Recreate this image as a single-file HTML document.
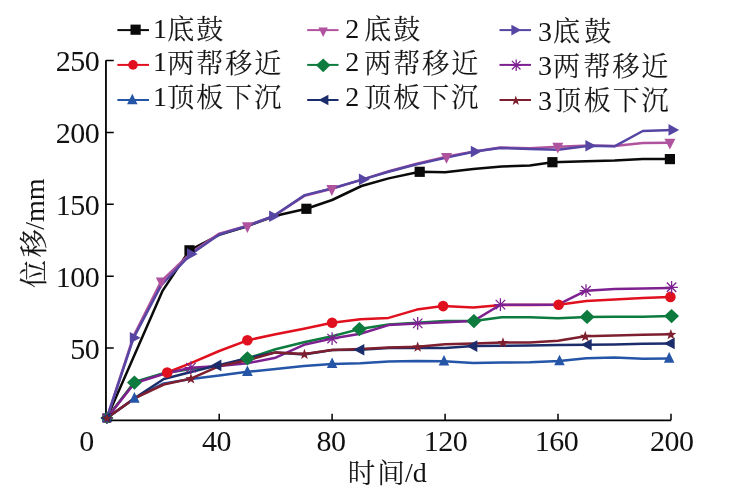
<!DOCTYPE html>
<html lang="zh"><head><meta charset="utf-8"><title>位移-时间</title>
<style>
html,body{margin:0;padding:0;background:#fff;}
svg{display:block}
text{font-family:"Liberation Serif","Noto Serif CJK SC",serif;fill:#111;}
.n{font-size:28px}
.t{font-size:30px;letter-spacing:-0.5px}
.c{font-family:"Noto Serif CJK SC","Liberation Serif",serif;font-size:28px;letter-spacing:1px;font-weight:300;stroke:#111;stroke-width:0.22px}
</style></head><body>
<svg width="731" height="504" viewBox="0 0 731 504">
<rect width="731" height="504" fill="#fff"/>
<path d="M105.95 60.3L105.95 420.4L671.2 420.4" fill="none" stroke="#000" stroke-width="1.8"/>
<path d="M105.95 348.1h7.8M105.95 276.2h7.8M105.95 204.3h7.8M105.95 132.4h7.8M105.95 60.5h7.8M219.2 420.0v-6.3M332.1 420.0v-6.3M445.1 420.0v-6.3M558.0 420.0v-6.3M671.0 420.0v-6.3" fill="none" stroke="#000" stroke-width="1.5"/>
<text class="t" x="99.2" y="358.7" text-anchor="end">50</text>
<text class="t" x="99.2" y="286.8" text-anchor="end">100</text>
<text class="t" x="99.2" y="214.9" text-anchor="end">150</text>
<text class="t" x="99.2" y="143.0" text-anchor="end">200</text>
<text class="t" x="99.2" y="71.1" text-anchor="end">250</text>
<text class="t" x="86.5" y="450.6" text-anchor="middle">0</text>
<text class="t" x="216.5" y="450.6" text-anchor="middle">40</text>
<text class="t" x="331.0" y="450.6" text-anchor="middle">80</text>
<text class="t" x="445.6" y="450.6" text-anchor="middle">120</text>
<text class="t" x="556.5" y="450.6" text-anchor="middle">160</text>
<text class="t" x="671.8" y="450.6" text-anchor="middle">200</text>
<text y="482"><tspan class="c" x="347.8 377.2" dy="0.8" style="font-size:27.5px">时间</tspan><tspan class="n" x="405" dy="-0.8">/d</tspan></text>
<text transform="translate(43.6 288) rotate(-90)"><tspan class="c" x="0 30.7">位移</tspan><tspan class="n" x="58.3">/mm</tspan></text>
<path d="M106.9 418.0L162.7 290.6L189.5 250.3L219.2 234.8L247.4 226.2L275.6 215.8L306.4 208.8L332.1 200.0L361.5 186.0L388.6 178.4L419.7 171.8L445.1 172.2L473.3 169.1L501.6 166.5L529.8 165.5L552.4 162.2L586.3 161.2L614.5 160.4L642.8 158.9L669.9 159.1" fill="none" stroke="#0a0a0a" stroke-width="2.5" stroke-linejoin="round"/>
<path d="M106.9 418.0L133.7 335.7L161.3 281.1L190.9 252.9L219.2 233.6L247.4 225.6L274.2 215.8L304.7 195.7L331.8 188.8L362.9 179.4L388.6 171.2L416.8 163.7L446.5 156.6L474.7 151.4L500.1 147.6L529.8 148.2L557.8 146.8L589.4 145.5L614.5 146.1L642.8 142.9L669.9 142.8" fill="none" stroke="#b0539f" stroke-width="2.5" stroke-linejoin="round"/>
<path d="M106.9 418.0L133.7 337.7L161.3 285.1L190.9 254.1L219.2 234.5L247.4 225.9L273.1 216.2L304.7 195.1L331.8 188.5L362.9 179.4L388.6 171.8L416.8 164.3L446.5 157.6L474.7 151.5L500.1 147.9L529.8 148.9L558.0 149.7L589.4 145.8L614.5 146.3L642.8 131.0L672.4 130.0" fill="none" stroke="#5645a3" stroke-width="2.5" stroke-linejoin="round"/>
<path d="M106.9 418.0L134.4 382.6L167.2 372.5L190.9 363.2L219.2 351.0L247.4 340.3L275.6 334.3L303.9 328.7L332.1 322.8L360.4 319.3L388.6 317.9L416.8 309.6L443.1 306.1L473.3 307.4L501.6 305.0L529.8 305.0L558.6 304.7L586.3 301.1L614.5 299.4L642.8 297.9L669.4 296.9" fill="none" stroke="#e0101e" stroke-width="2.5" stroke-linejoin="round"/>
<path d="M106.9 418.0L134.4 381.9L162.7 373.4L190.9 369.0L219.2 366.1L247.4 358.3L275.6 349.3L303.9 342.3L332.1 336.3L359.4 329.1L388.6 324.4L416.8 322.8L445.1 321.1L473.9 321.1L501.6 317.2L529.8 317.2L558.0 318.2L587.1 316.9L614.5 316.8L642.8 316.8L671.6 316.0" fill="none" stroke="#0d7b3e" stroke-width="2.5" stroke-linejoin="round"/>
<path d="M106.9 418.0L134.4 383.3L162.7 374.3L190.9 367.7L219.2 366.1L247.4 363.2L275.6 357.7L303.9 344.8L332.1 338.6L360.4 333.7L388.6 325.1L417.7 323.4L445.1 322.2L473.3 321.1L500.4 304.7L529.8 304.7L558.0 304.7L586.0 290.7L614.5 289.1L642.8 288.6L670.7 288.0" fill="none" stroke="#7d2190" stroke-width="2.5" stroke-linejoin="round"/>
<path d="M106.9 418.0L134.4 398.4L162.7 383.8L190.9 379.0L219.2 375.4L247.4 371.8L275.6 369.0L303.9 366.1L332.1 363.9L360.4 363.2L388.6 361.6L416.8 361.0L444.0 361.3L473.3 362.9L501.6 362.5L529.8 362.2L559.5 361.0L586.3 358.2L614.5 357.4L642.8 358.7L669.2 358.5" fill="none" stroke="#2455a6" stroke-width="2.5" stroke-linejoin="round"/>
<path d="M106.9 418.0L134.4 398.4L163.8 379.0L190.9 372.0L217.5 365.4L247.4 358.2L275.6 352.4L303.9 354.6L332.1 350.1L360.4 349.7L388.6 348.1L416.8 347.7L445.1 348.1L473.3 346.1L501.6 345.8L529.8 345.5L558.0 345.1L587.7 344.8L614.5 344.4L642.8 343.8L670.7 343.4" fill="none" stroke="#1c2d6b" stroke-width="2.5" stroke-linejoin="round"/>
<path d="M106.9 418.0L134.4 398.4L163.8 384.5L190.9 378.6L219.2 366.1L247.4 360.3L275.6 352.4L304.4 354.0L332.1 350.1L360.4 349.1L388.6 347.5L417.7 346.8L445.1 344.2L473.3 343.5L503.0 342.5L529.8 342.5L558.0 340.8L585.3 336.2L614.5 335.4L642.8 334.7L670.9 334.3" fill="none" stroke="#7d1f2e" stroke-width="2.5" stroke-linejoin="round"/>
<rect x="102.4" y="413.5" width="9.0" height="9.0" fill="#0a0a0a"/>
<rect x="184.4" y="245.2" width="10.2" height="10.2" fill="#0a0a0a"/>
<rect x="301.3" y="203.7" width="10.2" height="10.2" fill="#0a0a0a"/>
<rect x="414.6" y="166.7" width="10.2" height="10.2" fill="#0a0a0a"/>
<rect x="547.3" y="157.1" width="10.2" height="10.2" fill="#0a0a0a"/>
<rect x="664.8" y="154.0" width="10.2" height="10.2" fill="#0a0a0a"/>
<path d="M102.1 414.5L111.7 414.5L106.9 424.0Z" fill="#b0539f"/>
<path d="M155.8 277.4L166.8 277.4L161.3 288.2Z" fill="#b0539f"/>
<path d="M241.9 222.2L252.9 222.2L247.4 233.0Z" fill="#b0539f"/>
<path d="M326.3 185.1L337.3 185.1L331.8 195.9Z" fill="#b0539f"/>
<path d="M441.0 152.9L452.0 152.9L446.5 163.7Z" fill="#b0539f"/>
<path d="M552.3 142.8L563.3 142.8L557.8 153.6Z" fill="#b0539f"/>
<path d="M664.4 138.8L675.4 138.8L669.9 149.6Z" fill="#b0539f"/>
<path d="M103.4 412.9L103.4 423.1L112.9 418.0Z" fill="#5645a3"/>
<path d="M129.8 331.9L129.8 343.6L140.6 337.7Z" fill="#5645a3"/>
<path d="M187.0 248.2L187.0 259.9L197.7 254.1Z" fill="#5645a3"/>
<path d="M269.1 210.4L269.1 222.1L279.9 216.2Z" fill="#5645a3"/>
<path d="M358.9 173.6L358.9 185.3L369.7 179.4Z" fill="#5645a3"/>
<path d="M470.8 145.7L470.8 157.4L481.6 151.5Z" fill="#5645a3"/>
<path d="M585.4 139.9L585.4 151.6L596.2 145.8Z" fill="#5645a3"/>
<path d="M668.5 124.1L668.5 135.8L679.2 130.0Z" fill="#5645a3"/>
<circle cx="106.9" cy="418.0" r="4.6" fill="#e0101e"/>
<circle cx="167.2" cy="372.5" r="5.3" fill="#e0101e"/>
<circle cx="247.4" cy="340.3" r="5.3" fill="#e0101e"/>
<circle cx="332.1" cy="322.8" r="5.3" fill="#e0101e"/>
<circle cx="443.1" cy="306.1" r="5.3" fill="#e0101e"/>
<circle cx="558.6" cy="304.7" r="5.3" fill="#e0101e"/>
<circle cx="670.4" cy="296.9" r="5.3" fill="#e0101e"/>
<path d="M100.3 418.0L106.9 411.7L113.5 418.0L106.9 424.3Z" fill="#0d7b3e"/>
<path d="M127.0 382.6L134.4 375.5L141.9 382.6L134.4 389.8Z" fill="#0d7b3e"/>
<path d="M239.9 358.3L247.4 351.2L254.9 358.3L247.4 365.5Z" fill="#0d7b3e"/>
<path d="M351.9 329.1L359.4 322.0L366.9 329.1L359.4 336.3Z" fill="#0d7b3e"/>
<path d="M466.4 321.1L473.9 313.9L481.4 321.1L473.9 328.2Z" fill="#0d7b3e"/>
<path d="M579.6 316.9L587.1 309.7L594.6 316.9L587.1 324.0Z" fill="#0d7b3e"/>
<path d="M664.1 316.0L671.6 308.9L679.0 316.0L671.6 323.2Z" fill="#0d7b3e"/>
<path d="M106.9 412.4L106.9 423.6M102.7 413.8L111.1 422.1M102.7 422.1L111.1 413.8M101.3 418.0L112.5 418.0" stroke="#7d2190" stroke-width="1.3" fill="none"/>
<path d="M190.9 361.3L190.9 374.0M186.2 362.9L195.7 372.4M186.2 372.4L195.7 362.9M184.5 367.7L197.3 367.7" stroke="#7d2190" stroke-width="1.3" fill="none"/>
<path d="M332.1 332.2L332.1 345.0M327.4 333.9L336.9 343.3M327.4 343.3L336.9 333.9M325.7 338.6L338.5 338.6" stroke="#7d2190" stroke-width="1.3" fill="none"/>
<path d="M417.7 317.0L417.7 329.7M413.0 318.6L422.4 328.1M413.0 328.1L422.4 318.6M411.3 323.4L424.1 323.4" stroke="#7d2190" stroke-width="1.3" fill="none"/>
<path d="M500.4 298.3L500.4 311.1M495.7 299.9L505.2 309.4M495.7 309.4L505.2 299.9M494.1 304.7L506.8 304.7" stroke="#7d2190" stroke-width="1.3" fill="none"/>
<path d="M586.0 284.3L586.0 297.1M581.3 286.0L590.7 295.5M581.3 295.5L590.7 286.0M579.6 290.7L592.4 290.7" stroke="#7d2190" stroke-width="1.3" fill="none"/>
<path d="M671.6 280.9L671.6 293.7M666.8 282.5L676.3 292.0M666.8 292.0L676.3 282.5M665.2 287.3L677.9 287.3" stroke="#7d2190" stroke-width="1.3" fill="none"/>
<path d="M102.3 421.7L111.5 421.7L106.9 412.4Z" fill="#2455a6"/>
<path d="M129.2 402.7L139.7 402.7L134.4 392.0Z" fill="#2455a6"/>
<path d="M242.1 376.1L252.7 376.1L247.4 365.4Z" fill="#2455a6"/>
<path d="M326.9 368.1L337.4 368.1L332.1 357.5Z" fill="#2455a6"/>
<path d="M438.7 365.6L449.2 365.6L444.0 354.9Z" fill="#2455a6"/>
<path d="M554.2 365.3L564.7 365.3L559.5 354.7Z" fill="#2455a6"/>
<path d="M663.9 362.7L674.4 362.7L669.2 352.1Z" fill="#2455a6"/>
<path d="M110.4 412.9L110.4 423.1L100.9 418.0Z" fill="#1c2d6b"/>
<path d="M221.4 359.5L221.4 371.2L210.6 365.4Z" fill="#1c2d6b"/>
<path d="M364.3 343.9L364.3 355.5L353.5 349.7Z" fill="#1c2d6b"/>
<path d="M477.3 340.3L477.3 351.9L466.5 346.1Z" fill="#1c2d6b"/>
<path d="M591.7 339.0L591.7 350.6L580.9 344.8Z" fill="#1c2d6b"/>
<path d="M674.7 337.5L674.7 349.2L663.9 343.4Z" fill="#1c2d6b"/>
<path d="M106.9 413.4L108.1 416.7L111.7 416.8L108.8 419.0L109.9 422.5L106.9 420.4L103.9 422.5L105.0 419.0L102.1 416.8L105.7 416.7Z" fill="#7d1f2e"/>
<path d="M190.9 373.3L192.3 377.1L196.4 377.2L193.1 379.7L194.3 383.6L190.9 381.3L187.6 383.6L188.7 379.7L185.5 377.2L189.6 377.1Z" fill="#7d1f2e"/>
<path d="M304.4 348.7L305.8 352.5L309.9 352.6L306.6 355.1L307.8 359.0L304.4 356.7L301.1 359.0L302.2 355.1L299.0 352.6L303.1 352.5Z" fill="#7d1f2e"/>
<path d="M417.7 341.5L419.0 345.3L423.1 345.4L419.9 347.9L421.0 351.8L417.7 349.5L414.3 351.8L415.5 347.9L412.2 345.4L416.3 345.3Z" fill="#7d1f2e"/>
<path d="M503.0 337.2L504.3 341.0L508.4 341.1L505.2 343.6L506.3 347.5L503.0 345.2L499.6 347.5L500.8 343.6L497.5 341.1L501.6 341.0Z" fill="#7d1f2e"/>
<path d="M585.3 330.8L586.6 334.7L590.7 334.8L587.5 337.3L588.7 341.2L585.3 338.9L581.9 341.2L583.1 337.3L579.9 334.8L583.9 334.7Z" fill="#7d1f2e"/>
<path d="M670.9 329.0L672.2 332.8L676.3 332.9L673.1 335.4L674.2 339.3L670.9 337.0L667.5 339.3L668.7 335.4L665.4 332.9L669.5 332.8Z" fill="#7d1f2e"/>
<path d="M117.4 30.1L149 30.1" stroke="#0a0a0a" stroke-width="2"/>
<rect x="130.5" y="24.6" width="10.2" height="10.2" fill="#0a0a0a"/>
<text><tspan class="n" x="153" y="37.5">1</tspan><tspan class="c" x="167.2 196.2" y="39.2" style="font-size:27px;letter-spacing:0">底鼓</tspan></text>
<path d="M117.4 64.9L149 64.9" stroke="#e0101e" stroke-width="2"/>
<circle cx="133.0" cy="64.9" r="4.8" fill="#e0101e"/>
<text><tspan class="n" x="153" y="71.1">1</tspan><tspan class="c" x="167.2 196.2 225.2 254.2" y="73.1" style="font-size:27px;letter-spacing:0">两帮移近</tspan></text>
<path d="M117.4 100.0L149 100.0" stroke="#2455a6" stroke-width="2"/>
<path d="M127.1 104.3L137.5 104.3L132.3 93.8Z" fill="#2455a6"/>
<text><tspan class="n" x="153" y="105.9">1</tspan><tspan class="c" x="167.2 196.2 225.2 254.2" y="107.0" style="font-size:27px;letter-spacing:0">顶板下沉</tspan></text>
<path d="M307.2 30.1L338.5 30.1" stroke="#b0539f" stroke-width="2"/>
<path d="M318.4 27.6L327.9 27.6L323.2 36.9Z" fill="#b0539f"/>
<text><tspan class="n" x="345.3" y="37.5">2</tspan><tspan class="c" x="364.2 393.2" y="39.2" style="font-size:27px;letter-spacing:0">底鼓</tspan></text>
<path d="M307.2 64.9L338.5 64.9" stroke="#0d7b3e" stroke-width="2"/>
<path d="M316.0 65.3L323.2 58.4L330.4 65.3L323.2 72.2Z" fill="#0d7b3e"/>
<text><tspan class="n" x="345.3" y="71.1">2</tspan><tspan class="c" x="364.2 393.2 422.2 451.2" y="73.1" style="font-size:27px;letter-spacing:0">两帮移近</tspan></text>
<path d="M307.2 100.0L338.5 100.0" stroke="#1c2d6b" stroke-width="2"/>
<path d="M328.4 94.7L328.4 105.3L318.6 100.0Z" fill="#1c2d6b"/>
<text><tspan class="n" x="345.3" y="105.9">2</tspan><tspan class="c" x="364.2 393.2 422.2 451.2" y="107.0" style="font-size:27px;letter-spacing:0">顶板下沉</tspan></text>
<path d="M499.5 30.1L531 30.1" stroke="#5645a3" stroke-width="2"/>
<path d="M511.4 24.8L511.4 35.4L521.2 30.1Z" fill="#5645a3"/>
<text><tspan class="n" x="538" y="40.9">3</tspan><tspan class="c" x="553.0 584.3" y="41.2" style="font-size:27px;letter-spacing:0">底鼓</tspan></text>
<path d="M499.5 64.9L531 64.9" stroke="#7d2190" stroke-width="2"/>
<path d="M516.2 59.4L516.2 71.0M511.9 60.9L520.5 69.5M511.9 69.5L520.5 60.9M510.4 65.2L522.0 65.2" stroke="#7d2190" stroke-width="1.3" fill="none"/>
<text><tspan class="n" x="538" y="75.4">3</tspan><tspan class="c" x="553.0 583.5 612.6 641.2" y="75.6" style="font-size:27px;letter-spacing:0">两帮移近</tspan></text>
<path d="M499.5 100.0L531 100.0" stroke="#7d1f2e" stroke-width="2"/>
<path d="M515.8 95.5L517.0 99.0L520.7 99.1L517.8 101.3L518.9 104.9L515.8 102.8L512.7 104.9L513.8 101.3L510.9 99.1L514.6 99.0Z" fill="#7d1f2e"/>
<text><tspan class="n" x="538" y="109.6">3</tspan><tspan class="c" x="554.2 583.7 612.8 641.5" y="109.5" style="font-size:27px;letter-spacing:0">顶板下沉</tspan></text>
</svg></body></html>
